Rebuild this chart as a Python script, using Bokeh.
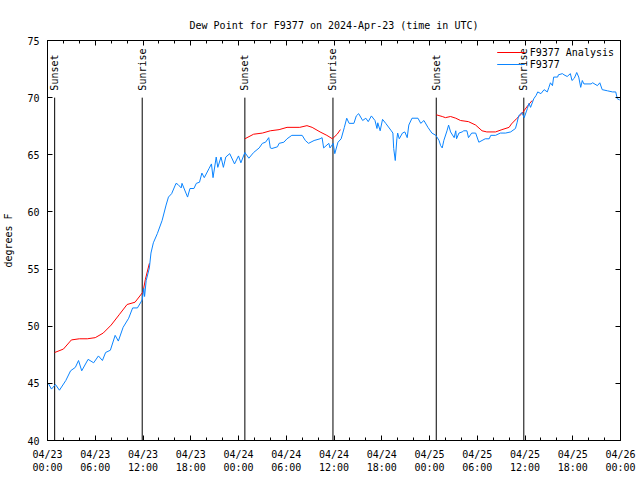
import math
from bokeh.plotting import figure
from bokeh.models import LinearAxis, FixedTicker, Range1d, Legend, LegendItem, ColumnDataSource
from bokeh.embed import file_html
from bokeh.resources import INLINE
from bokeh.core.properties import value

nan = float("nan")
FONT = "DejaVu Sans Mono"

# hours since 2024-04-23 00:00 UTC
obs_hours = [0.1, 0.5, 1.0, 1.5, 2.3, 2.9, 3.5, 3.9, 4.3, 5.1, 5.8, 6.4, 6.9, 7.3, 7.9, 8.5, 8.9, 9.5, 10.2, 10.7,
             11.3, 11.9, 12.1, 12.2, 12.4, 12.8, 13.0, 13.3, 13.8, 14.4, 14.9, 15.2, 15.6, 16.15, 16.4, 16.8, 16.9,
             17.6, 17.9, 18.4, 18.7, 19.1, 19.4, 19.7, 20.3, 20.6, 20.8, 21.2, 21.4, 21.8, 22.1, 22.4, 22.9, 23.5,
             24.0, 24.3, 24.8, 25.3, 25.9, 26.6, 27.0, 27.4, 27.8, 28.0, 28.2, 28.9, 29.1, 29.7, 30.1, 30.7, 32.0,
             32.4, 32.8, 33.5, 34.25, 34.5, 34.7, 35.35, 35.5, 35.9, 36.1, 36.5, 36.9, 37.3, 37.6, 37.9, 38.5, 38.8,
             39.1, 39.6, 40.0, 40.3, 40.7, 41.15, 41.4, 41.5, 41.8, 42.1, 42.5, 43.2, 43.4, 43.5, 43.7, 43.9, 44.0,
             44.2, 44.6, 44.9, 45.2, 45.4, 45.8, 46.55, 46.9, 47.3, 47.8, 48.3, 48.8, 49.2, 49.4, 49.6, 49.8, 50.2,
             50.4, 50.65, 51.1, 51.3, 51.4, 51.7, 52.1, 52.3, 52.7, 52.9, 53.3, 53.8, 54.2, 54.6, 55.0, 55.5, 55.7,
             56.3, 56.9, 57.55, 58.2, 58.8, 59.0, 59.2, 59.6, 59.9, 60.3, 60.5, 60.7, 61.1, 61.4, 61.6, 62.0, 62.4,
             62.8, 63.0, 63.2, 63.45, 63.6, 64.1, 64.2, 64.7, 64.9, 65.3, 65.7, 65.9, 66.2, 66.5, 66.75, 67.0, 67.2,
             67.4, 68.3, 68.5, 69.1, 69.4, 69.7, 70.35, 71.0, 71.4, 71.6, 71.9]
obs_dewpt = [45.0, 44.5, 44.9, 44.4, 45.25, 46.1, 46.4, 47.0, 46.1, 47.1, 46.8, 47.4, 47.0, 47.7, 47.9, 49.2, 48.7, 49.9,
             50.7, 51.6, 51.6, 52.3, 53.3, 52.6, 54.0, 55.1, 56.4, 57.3, 58.1, 59.25, 60.6, 61.3, 61.6, 62.5, 62.4,
             62.1, 62.5, 61.3, 62.05, 62.05, 62.5, 62.6, 63.4, 63.0, 63.8, 64.2, 63.0, 64.8, 63.9, 64.8, 63.9, 64.8,
             65.1, 64.2, 64.9, 64.3, 65.2, 64.7, 65.2, 65.6, 66.0, 66.1, 66.5, 65.6, 65.55, 65.7, 66.0, 66.1, 66.4,
             66.7, 66.7, 66.25, 66.0, 66.25, 66.4, 66.5, 65.6, 66.0, 65.6, 66.0, 65.1, 66.1, 66.4, 67.4, 68.2, 67.75,
             67.75, 68.4, 68.6, 68.0, 68.2, 67.9, 68.4, 68.0, 67.3, 67.8, 67.1, 68.1, 67.75, 67.1, 66.9, 65.55, 64.5,
             66.4, 66.9, 66.4, 66.9, 67.0, 66.5, 67.6, 68.2, 68.2, 67.75, 68.0, 67.4, 66.9, 66.7, 66.25, 65.8, 65.6,
             66.25, 67.1, 67.6, 67.0, 66.5, 67.1, 66.4, 66.9, 67.0, 67.1, 67.1, 66.5, 66.9, 66.9, 66.1, 66.25, 66.4,
             66.4, 66.7, 66.7, 66.9, 66.9, 67.0, 67.3, 67.8, 68.4, 68.7, 68.25, 69.05, 69.5, 69.15, 69.9, 70.2, 70.5,
             70.35, 70.7, 70.5, 70.9, 71.3, 71.05, 71.8, 71.8, 72.0, 72.1, 72.0, 71.85, 72.1, 71.5, 71.7, 72.2, 71.8,
             70.9, 71.5, 71.2, 71.2, 71.3, 71.05, 71.3, 70.7, 70.6, 70.5, 70.5, 69.9, 69.8]

ana_hours = [0.9, 2.0, 3.0, 4.0, 5.0, 6.0, 7.0, 8.0, 9.0, 10.0, 11.0, 12.0, 12.3, 12.8, nan,
             24.8, 25.9, 27.0, 28.0, 29.1, 30.1, 31.7, 32.6, 33.25, 34.25, 35.1, 35.8, 36.4, 36.8, nan,
             48.85, 49.6, 50.0, 50.65, 51.3, 51.9, 52.9, 53.8, 54.6, 55.2, 56.3, 57.1, 58.0, 58.3, 59.0, 59.6,
             60.35, 60.9]
ana_dewpt = [47.7, 48.0, 48.8, 48.9, 48.9, 49.0, 49.4, 50.1, 51.0, 51.9, 52.1, 53.0, 54.1, 55.5, nan,
             66.4, 66.8, 66.9, 67.1, 67.2, 67.4, 67.4, 67.55, 67.4, 67.0, 66.7, 66.4, 66.8, 67.2, nan,
             68.5, 68.35, 68.25, 68.35, 68.2, 68.0, 67.9, 67.6, 67.1, 67.0, 67.0, 67.2, 67.4, 67.7, 68.2, 68.6,
             69.3, 69.75]

event_hours = [0.9, 11.9, 24.8, 35.87, 48.85, 59.85]
event_names = ["Sunset", "Sunrise", "Sunset", "Sunrise", "Sunset", "Sunrise"]
event_top = 70

tick_hours = [0, 6, 12, 18, 24, 30, 36, 42, 48, 54, 60, 66, 72]
tick_labels = ["04/23\n00:00", "04/23\n06:00", "04/23\n12:00", "04/23\n18:00",
               "04/24\n00:00", "04/24\n06:00", "04/24\n12:00", "04/24\n18:00",
               "04/25\n00:00", "04/25\n06:00", "04/25\n12:00", "04/25\n18:00",
               "04/26\n00:00"]
minor_hours = list(range(0, 73, 2))
y_ticks = [40, 45, 50, 55, 60, 65, 70, 75]

p = figure(width=640, height=480, output_backend="svg", toolbar_location=None,
           x_range=Range1d(0, 72), y_range=Range1d(40, 75),
           title="Dew Point for F9377 on 2024-Apr-23 (time in UTC)",
           min_border_left=46, min_border_right=20, min_border_top=40, min_border_bottom=40)
p.background_fill_color = "white"
p.border_fill_color = "white"
p.outline_line_color = "black"
p.outline_line_width = 1
p.grid.visible = False

p.title.align = "center"
p.title.text_font = FONT
p.title.text_font_size = "10px"
p.title.text_font_style = "normal"
p.title.text_color = "black"
p.title.standoff = 19

xt = FixedTicker(ticks=tick_hours, minor_ticks=minor_hours)
yt = FixedTicker(ticks=y_ticks, minor_ticks=[])

def style_axis(ax, ticker):
    ax.ticker = ticker
    ax.axis_line_color = "black"
    ax.major_tick_line_color = "black"
    ax.minor_tick_line_color = "black"
    ax.major_tick_in = 5
    ax.major_tick_out = 0
    ax.minor_tick_in = 3
    ax.minor_tick_out = 0
    ax.major_label_text_font = FONT
    ax.major_label_text_font_size = "10px"
    ax.major_label_text_color = "black"
    ax.axis_label_text_font = FONT
    ax.axis_label_text_font_size = "10px"
    ax.axis_label_text_font_style = "normal"
    ax.axis_label_text_color = "black"

style_axis(p.xaxis[0], xt)
p.xaxis[0].major_label_overrides = {h: lab for h, lab in zip(tick_hours, tick_labels)}
p.xaxis[0].major_label_standoff = 8
style_axis(p.yaxis[0], yt)
p.yaxis[0].axis_label = "degrees F"
p.yaxis[0].major_label_standoff = 8
p.yaxis[0].axis_label_standoff = 10

# mirrored tick marks (no labels) on top and right
top_ax = LinearAxis()
style_axis(top_ax, xt)
top_ax.major_label_overrides = {h: "" for h in tick_hours}
top_ax.major_label_standoff = 0
p.add_layout(top_ax, "above")
right_ax = LinearAxis()
style_axis(right_ax, yt)
right_ax.major_label_overrides = {v: "" for v in y_ticks}
right_ax.major_label_standoff = 0
p.add_layout(right_ax, "right")

ev = ColumnDataSource(dict(x=event_hours, name=event_names,
                           y0=[40] * len(event_hours), y1=[event_top] * len(event_hours)))
p.segment(x0="x", y0="y0", x1="x", y1="y1", source=ev, line_color="black", line_width=1)
p.text(x="x", y="y1", text="name", source=ev, angle=math.pi / 2, text_align="left",
       text_baseline="middle", y_offset=-7, text_font=value(FONT), text_font_size="10px",
       text_color="black")

r_ana = p.line(ana_hours, ana_dewpt, line_color="#ff0000", line_width=1)
r_obs = p.line(obs_hours, obs_dewpt, line_color="#0a84ff", line_width=1)

legend = Legend(items=[LegendItem(label="F9377 Analysis", renderers=[r_ana]),
                       LegendItem(label="F9377", renderers=[r_obs])],
                location="top_right")
legend.label_text_font = FONT
legend.label_text_font_size = "10px"
legend.label_text_color = "black"
legend.glyph_width = 28
legend.glyph_height = 12
legend.label_height = 12
legend.spacing = 0
legend.padding = 2
legend.margin = 4
legend.background_fill_alpha = 0
legend.border_line_alpha = 0
p.add_layout(legend, "center")

open("out.html", "w").write(file_html(p, INLINE))
